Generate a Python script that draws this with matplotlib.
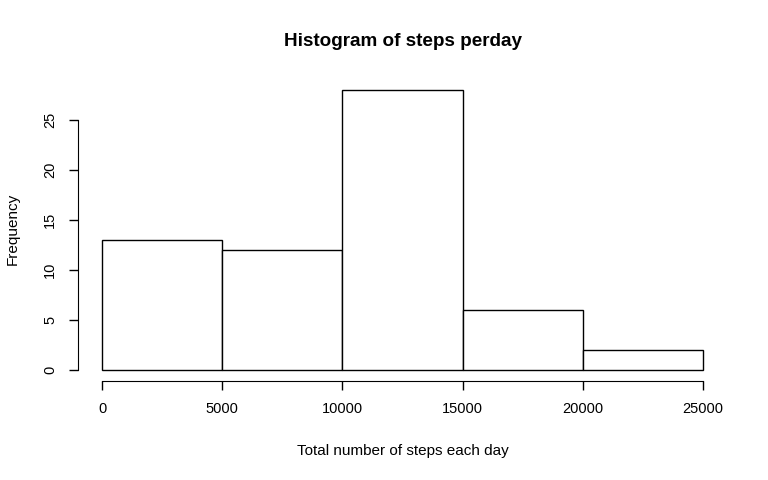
import matplotlib
matplotlib.use("Agg")
import matplotlib.pyplot as plt

# histogram data
bin_edges = [0, 5000, 10000, 15000, 20000, 25000]
counts = [13, 12, 28, 6, 2]
x_ticks = [0, 5000, 10000, 15000, 20000, 25000]
y_ticks = [0, 5, 10, 15, 20, 25]

plt.rcParams['font.family'] = ['Liberation Sans', 'DejaVu Sans']

W, H = 768, 480
fig = plt.figure(figsize=(W / 100, H / 100), dpi=100)
# plot region in pixels, like R's default margins
left, right, top, bottom = 78, 727, 78.8, 381.2
ax = fig.add_axes([left / W, 1 - bottom / H, (right - left) / W, (bottom - top) / H])

widths = [b - a for a, b in zip(bin_edges[:-1], bin_edges[1:])]
ax.bar(bin_edges[:-1], counts, width=widths, align='edge',
       facecolor='white', edgecolor='black', linewidth=1)

# R style: extend ranges by 4%
xr = bin_edges[-1] - bin_edges[0]
yr = max(counts)
ax.set_xlim(bin_edges[0] - 0.04 * xr, bin_edges[-1] + 0.04 * xr)
ax.set_ylim(-0.04 * yr, yr * 1.04)

for s in ['top', 'right']:
    ax.spines[s].set_visible(False)
ax.spines['left'].set_bounds(y_ticks[0], y_ticks[-1])
ax.spines['bottom'].set_bounds(x_ticks[0], x_ticks[-1])

ax.set_xticks(x_ticks)
ax.set_yticks(y_ticks)
ax.set_yticklabels([str(v) for v in y_ticks], rotation=90, va='center')
ax.tick_params(direction='out', length=6.5, width=1, labelsize=10.5, pad=8.5)

fig.text(403 / W, 1 - 41 / H, "Histogram of steps perday", ha='center', va='center',
         fontsize=13.6, fontweight='bold')
fig.text(403 / W, 1 - 451 / H, "Total number of steps each day", ha='center', va='center',
         fontsize=11)
fig.text(13 / W, 1 - 229 / H, "Frequency", ha='center', va='center',
         rotation=90, fontsize=11)

fig.savefig("out.png", dpi=100)
